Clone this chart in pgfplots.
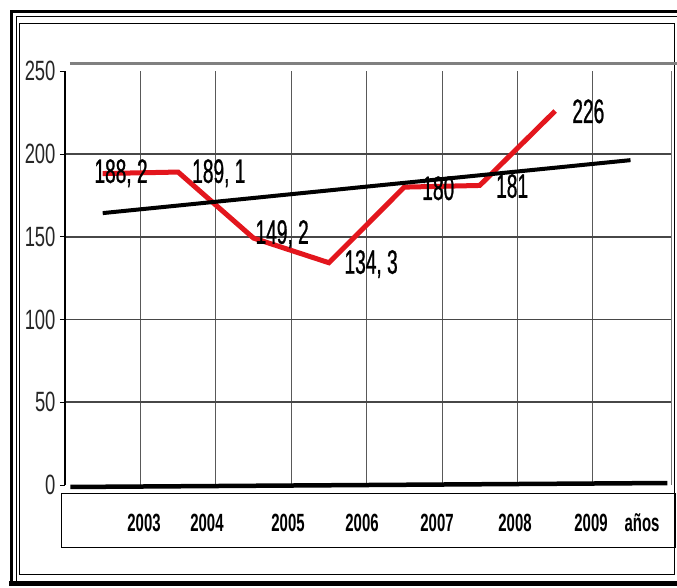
\documentclass[border=0pt]{standalone}
\usepackage{fontspec}
\setmainfont{Liberation Sans}
\newfontfamily\tickfont{Liberation Sans}[FakeStretch=0.66]
\newfontfamily\labfont{Liberation Sans}[FakeStretch=0.565, FakeBold=0.7]
\newfontfamily\yearfont{Liberation Sans}[FakeStretch=0.6]
\usepackage{pgfplots}
\pgfplotsset{compat=1.18}
\definecolor{linered}{HTML}{E3161D}
\begin{document}
\begin{tikzpicture}
\useasboundingbox (0,0) rectangle (677bp,588bp);
\fill[white] (0,0) rectangle (677bp,588bp);
% outer frame
\draw[line width=3bp] (11.5bp,4bp) -- (11.5bp,576.5bp) -- (690bp,576.5bp);
\draw[line width=5bp] (9bp,4bp) -- (690bp,4bp);
\draw[line width=1.2bp] (16.5bp,6bp) -- (16.5bp,571.5bp) -- (690bp,571.5bp);
\draw[line width=1bp] (19.5bp,13bp) rectangle (674bp,564bp);
% box of the years
\draw[line width=0.8bp] (61bp,41bp) rectangle (675bp,95bp);
\begin{axis}[
  at={(65bp,103bp)}, anchor=south west,
  scale only axis, width=606bp, height=422bp,
  xmin=-0.5, xmax=7.537, ymin=0, ymax=255,
  axis line style={draw=none},
  clip=false,
  ytick={0,50,100,150,200,250},
  tick align=outside, ytick pos=left,
  major tick length=5bp,
  y tick style={black, line width=1bp},
  yticklabel style={font=\tickfont\fontsize{28}{28}\selectfont, text=black!85, xshift=-1bp},
  /pgf/number format/assume math mode=true,
  xtick={0.548,1.383,2.458,3.439,4.434,5.468,6.476,7.153},
  xticklabels={2003,2004,2005,2006,2007,2008,2009,años},
  x tick style={draw=none},
  xticklabel style={font=\yearfont\bfseries\fontsize{25}{25}\selectfont, anchor=center, yshift=-33bp},
]
% grid
\pgfplotsinvokeforeach{0.5,1.5,2.5,3.5,4.5,5.5,6.5}{
  \draw[black!65, line width=0.9bp] (axis cs:#1,0) -- (axis cs:#1,250);
}
\draw[black!55, line width=1bp] (axis cs:7.537,0) -- (axis cs:7.537,250);
\pgfplotsinvokeforeach{50,100,150,200}{
  \draw[black!72, line width=1.8bp] (axis cs:-0.5,#1) -- (axis cs:7.537,#1);
}
\draw[black, line width=1.3bp] (axis cs:-0.5,0) -- (axis cs:-0.5,250);
\draw[black!50, line width=3bp] (axis cs:-0.434,254.8) -- (axis cs:7.7,254.8);
\draw[black, line width=4.5bp] (axis cs:-0.43,-1.2) -- (axis cs:7.49,1.2);
% data
\addplot[linered, line width=5bp, mark=none] coordinates {
  (0,188.2) (1,189.1) (2,149.2) (3,134.3) (4,180) (5,181) (6,226)
};
\addplot[black, line width=4bp, mark=none] coordinates {
  (0,164.3) (7,196.3)
};
% value labels
\begin{scope}[every node/.style={font=\labfont\fontsize{34}{34}\selectfont, inner sep=0pt}]
\node at (axis cs:0.243,188.4) {188, 2};
\node at (axis cs:1.54,188.4) {189, 1};
\node at (axis cs:2.38,151.6) {149, 2};
\node at (axis cs:3.56,133.5) {134, 3};
\node at (axis cs:4.45,179.3) {180};
\node at (axis cs:5.43,180.6) {181};
\node at (axis cs:6.44,225.8) {226};
\end{scope}
\end{axis}
\end{tikzpicture}
\end{document}
